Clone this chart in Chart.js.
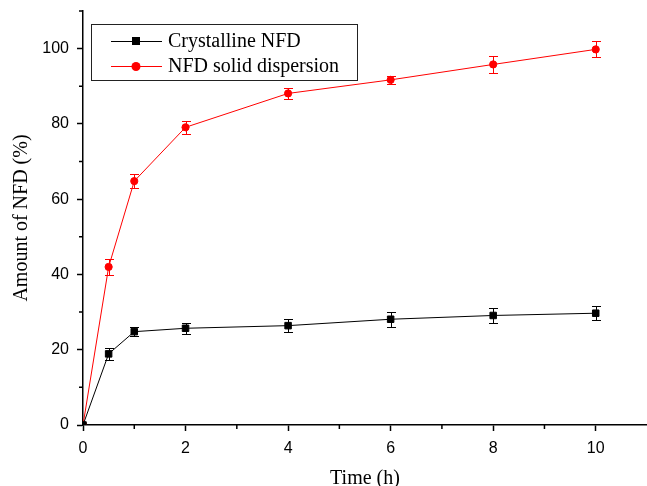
<!DOCTYPE html>
<html>
<head>
<meta charset="utf-8">
<title>NFD release</title>
<script src="https://cdn.jsdelivr.net/npm/chart.js@4.4.1/dist/chart.umd.min.js"></script>
<style>
    html, body { margin: 0; padding: 0; background: #fff; }
    canvas { display: block; }
</style>
</head>
<body>
<canvas id="releaseChart" width="647" height="486"></canvas>
<script>
// ==============================================
// DATA
// ==============================================
const times = [0, 0.5, 1, 2, 4, 6, 8, 10];
const crystalline = [0, 18.9, 24.8, 25.7, 26.4, 28.1, 29.1, 29.7];
const crystallineErr = [0, 1.5, 1.2, 1.5, 1.7, 2.0, 1.9, 1.8];
const dispersion = [0, 42.0, 64.8, 79.1, 88.1, 91.7, 95.8, 99.8];
const dispersionErr = [0, 2.1, 1.9, 1.7, 1.5, 1.1, 2.2, 2.1];
const seriesNames = ['Crystalline NFD', 'NFD solid dispersion'];
const xTickLabels = [0, 2, 4, 6, 8, 10];
const yTickLabels = [0, 20, 40, 60, 80, 100];

const serif = '"Liberation Serif", "Times New Roman", serif';
const sans = '"Liberation Sans", Arial, sans-serif';

function toPoints(ys) {
    return times.map((t, i) => ({ x: t, y: ys[i] }));
}

// ==============================================
// PLUGINS
// ==============================================
// vertical error bars with caps
const errorBars = {
    id: 'errorBars',
    afterDatasetsDraw(chart) {
        const ctx = chart.ctx;
        const xs = chart.scales.x, ys = chart.scales.y;
        chart.data.datasets.forEach(ds => {
            ctx.save();
            ctx.strokeStyle = ds.borderColor;
            ctx.lineWidth = 1;
            ds.data.forEach((p, i) => {
                const e = ds.errors[i];
                if (!e) return;
                const px = Math.round(xs.getPixelForValue(p.x)) + 0.5;
                const top = Math.round(ys.getPixelForValue(p.y + e)) + 0.5;
                const bot = Math.round(ys.getPixelForValue(p.y - e)) + 0.5;
                ctx.beginPath();
                ctx.moveTo(px, top); ctx.lineTo(px, bot);
                ctx.moveTo(px - 4.5, top); ctx.lineTo(px + 4.5, top);
                ctx.moveTo(px - 4.5, bot); ctx.lineTo(px + 4.5, bot);
                ctx.stroke();
            });
            ctx.restore();
        });
    }
};

// short minor ticks, boxed legend
const decorations = {
    id: 'decorations',
    afterDraw(chart) {
        const ctx = chart.ctx;
        const xs = chart.scales.x, ys = chart.scales.y;
        const area = chart.chartArea;
        ctx.save();
        ctx.strokeStyle = '#000';
        ctx.lineWidth = 1.5;
        ctx.beginPath();
        xs.ticks.forEach(t => {
            if (t.value % 2 === 0 || t.value >= 11) return;
            const px = xs.getPixelForValue(t.value);
            ctx.moveTo(px, area.bottom); ctx.lineTo(px, area.bottom + 4);
        });
        ys.ticks.forEach(t => {
            if (t.value % 20 === 0) return;
            const py = ys.getPixelForValue(t.value);
            ctx.moveTo(area.left, py); ctx.lineTo(area.left - 4, py);
        });
        ctx.stroke();

        // legend box
        ctx.lineWidth = 1;
        ctx.strokeStyle = '#222';
        ctx.strokeRect(91.5, 24.5, 266, 56);
        ctx.font = '20px ' + serif;
        ctx.textBaseline = 'middle';
        chart.data.datasets.forEach((ds, i) => {
            const cy = 41 + i * 25;
            ctx.strokeStyle = ds.borderColor;
            ctx.beginPath();
            ctx.moveTo(111, cy + 0.5); ctx.lineTo(162, cy + 0.5);
            ctx.stroke();
            ctx.fillStyle = ds.borderColor;
            if (ds.pointStyle === 'rect') {
                ctx.fillRect(132, cy - 4, 8, 8);
            } else {
                ctx.beginPath();
                ctx.arc(136, cy + 0.5, 4.5, 0, Math.PI * 2);
                ctx.fill();
            }
            ctx.fillStyle = '#000';
            ctx.fillText(ds.label, 168, cy + 1);
        });
        ctx.restore();
    }
};

// ==============================================
// CHART
// ==============================================
function initChart() {
    const el = document.getElementById('releaseChart');
    new Chart(el, {
        type: 'line',
        data: {
            datasets: [{
                label: seriesNames[0],
                data: toPoints(crystalline),
                errors: crystallineErr,
                borderColor: '#000',
                backgroundColor: '#000',
                borderWidth: 1,
                pointStyle: 'rect',
                pointRadius: 4.6,
                pointBorderWidth: 1,
                tension: 0
            }, {
                label: seriesNames[1],
                data: toPoints(dispersion),
                errors: dispersionErr,
                borderColor: '#ff0000',
                backgroundColor: '#ff0000',
                borderWidth: 1,
                pointStyle: 'circle',
                pointRadius: 3.6,
                pointBorderWidth: 1,
                tension: 0
            }]
        },
        options: {
            responsive: false,
            animation: false,
            layout: { autoPadding: false, padding: { top: 11, right: 0, left: 0, bottom: 0 } },
            plugins: {
                legend: { display: false },
                tooltip: { enabled: false }
            },
            scales: {
                x: {
                    type: 'linear',
                    min: 0,
                    max: 11,
                    afterFit(scale) {
                        scale.height = 61;
                        scale.paddingLeft = 0;
                        scale.paddingRight = 0;
                    },
                    border: { color: '#000', width: 1.5 },
                    grid: {
                        drawOnChartArea: false,
                        tickLength: 6,
                        tickWidth: 1.5,
                        tickColor: c => (c.tick && c.tick.value % 2 === 0) ? '#000' : 'rgba(0,0,0,0)'
                    },
                    ticks: {
                        stepSize: 1,
                        maxRotation: 0,
                        autoSkip: false,
                        padding: 8,
                        color: '#000',
                        font: { family: sans, size: 16 },
                        callback: v => xTickLabels.includes(v) ? String(v) : ''
                    },
                    title: {
                        display: true,
                        text: 'Time (h)',
                        color: '#000',
                        font: { family: serif, size: 20, lineHeight: 1 },
                        padding: { top: 0, bottom: -3 }
                    }
                },
                y: {
                    min: 0,
                    max: 110,
                    afterFit(scale) {
                        scale.width = 83;
                        scale.paddingTop = 0;
                        scale.paddingBottom = 0;
                    },
                    border: { color: '#000', width: 1.5 },
                    grid: {
                        drawOnChartArea: false,
                        tickLength: 6,
                        tickWidth: 1.5,
                        tickColor: c => (c.tick && c.tick.value % 20 === 0) ? '#000' : 'rgba(0,0,0,0)'
                    },
                    ticks: {
                        stepSize: 10,
                        autoSkip: false,
                        padding: 8,
                        color: '#000',
                        font: { family: sans, size: 16 },
                        callback: v => yTickLabels.includes(v) ? String(v) : ''
                    },
                    title: {
                        display: true,
                        text: 'Amount of NFD (%)',
                        color: '#000',
                        font: { family: serif, size: 20, lineHeight: 1 },
                        padding: { top: 12, bottom: 0 }
                    }
                }
            }
        },
        plugins: [errorBars, decorations]
    });
}

document.addEventListener('DOMContentLoaded', initChart);
</script>
</body>
</html>
